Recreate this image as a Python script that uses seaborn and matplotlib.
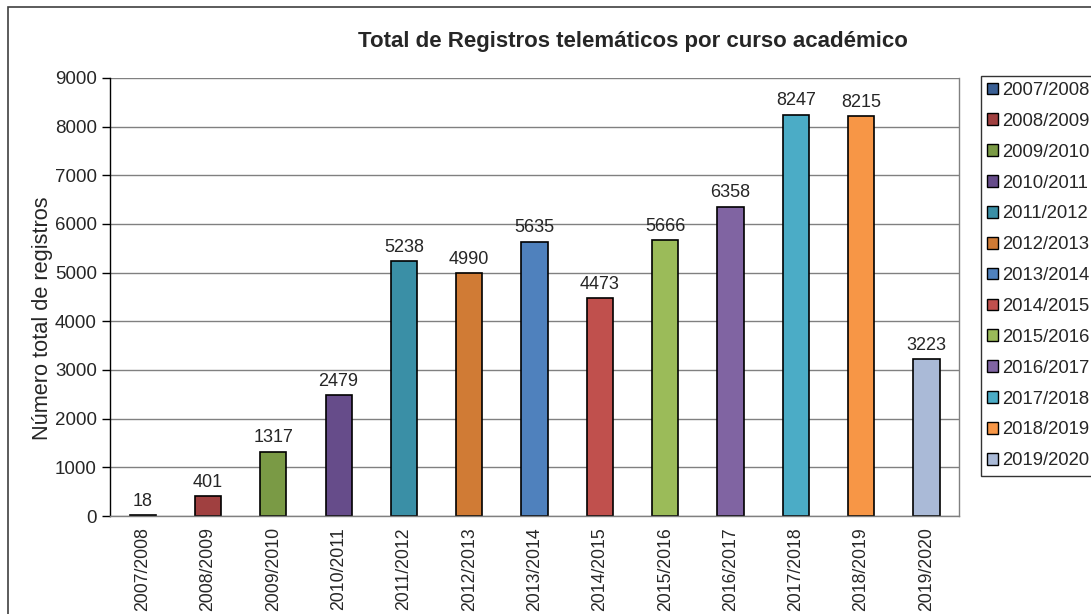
import matplotlib
matplotlib.use('Agg')
import matplotlib.pyplot as plt
import seaborn as sns
import pandas as pd
from matplotlib.patches import Patch, Rectangle

# Data
cursos = ['2007/2008', '2008/2009', '2009/2010', '2010/2011', '2011/2012',
          '2012/2013', '2013/2014', '2014/2015', '2015/2016', '2016/2017',
          '2017/2018', '2018/2019', '2019/2020']
registros = [18, 401, 1317, 2479, 5238, 4990, 5635, 4473, 5666, 6358, 8247, 8215, 3223]
colores = ['#3A5F94', '#A04040', '#7A9A45', '#664C8A', '#3A8FA6', '#D07B35',
           '#4F81BD', '#C0504D', '#9BBB59', '#8064A2', '#4BACC6', '#F79646', '#AABAD7']

sns.set_style('white')
plt.rcParams['font.family'] = ['Liberation Sans', 'DejaVu Sans']

df = pd.DataFrame({'curso': cursos, 'registros': registros})

fig = plt.figure(figsize=(10.91, 6.14), dpi=100)
ax = fig.add_axes([0.1008, 0.1596, 0.7783, 0.7134])

sns.barplot(data=df, x='curso', y='registros', hue='curso', palette=colores,
            saturation=1, width=0.4, edgecolor='black', linewidth=1.2,
            legend=False, ax=ax)

for cont in ax.containers:
    ax.bar_label(cont, padding=4, fontsize=13)

ax.set_ylim(0, 9000)
ax.set_yticks(range(0, 9001, 1000))
ax.set_xlim(-0.5, len(cursos) - 0.5)
ax.yaxis.grid(True, color='#808080', linewidth=1)
ax.set_axisbelow(True)

ax.set_xticks(range(len(cursos)))
ax.set_xticklabels(cursos, rotation=90, fontsize=12.7)
ax.tick_params(axis='x', length=0, pad=8)
ax.set_xticks([i - 0.5 for i in range(len(cursos) + 1)], minor=True)
ax.tick_params(axis='x', which='minor', length=6, color='#808080', width=1)
ax.tick_params(axis='y', labelsize=13.5, length=6, width=1, color='black', left=True)

ax.spines['top'].set_visible(False)
ax.spines['left'].set_color('black')
ax.spines['right'].set_color('#808080')
ax.spines['bottom'].set_color('#808080')
for s in ax.spines.values():
    s.set_linewidth(1)

ax.set_xlabel('')
ax.set_ylabel('Número total de registros', fontsize=15.7)
ax.yaxis.set_label_coords(-0.067, 0.452)

fig.text(0.58, 0.932, 'Total de Registros telemáticos por curso académico',
         ha='center', va='center', fontsize=16, fontweight='bold')

handles = [Patch(facecolor=c, edgecolor='black', linewidth=1) for c in colores]
leg = fig.legend(handles, cursos, loc='upper left', bbox_to_anchor=(0.899, 0.877),
                 fontsize=13.3, frameon=True, fancybox=False, handlelength=0.6,
                 handleheight=0.6, handletextpad=0.2, labelspacing=0.75,
                 borderpad=0.35, borderaxespad=0)
leg.get_frame().set_edgecolor('black')
leg.get_frame().set_linewidth(1)

# outer chart frame (right and bottom edges fall outside the image)
fig.patches.append(Rectangle((0.0073, -0.1), 1.2, 1.0886, transform=fig.transFigure,
                             fill=False, edgecolor='#404040', linewidth=1.2))

plt.savefig('out.png', dpi=100)
plt.close()
